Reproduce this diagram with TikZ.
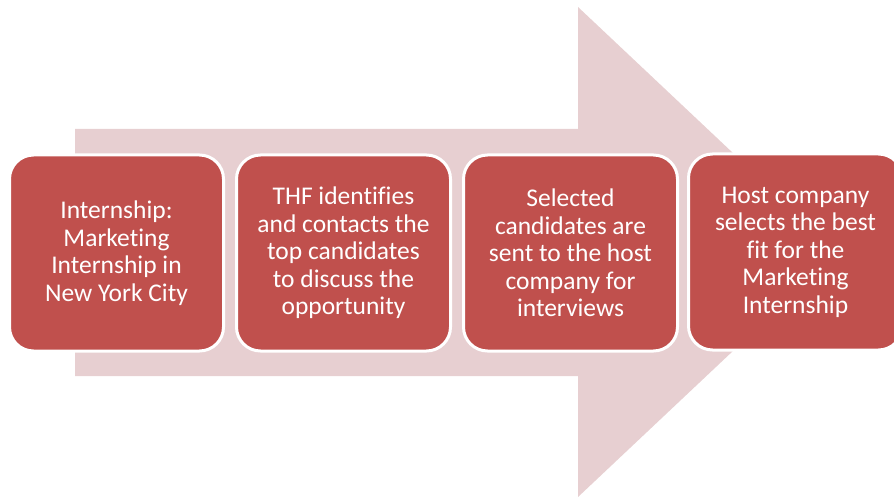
\documentclass[tikz,border=0pt]{standalone}
\usepackage{fontspec}
\setmainfont[Ligatures={NoCommon}]{Carlito}
\definecolor{boxred}{HTML}{C0504D}
\definecolor{arrowpink}{HTML}{E7CFD1}
\begin{document}
\begin{tikzpicture}[x=1pt,y=-1pt,
  stepbox/.style={rectangle, rounded corners=24pt, fill=boxred, draw=white, line width=3pt,
    minimum width=214pt, minimum height=196pt, inner sep=0pt,
    text=white, align=center, font=\fontsize{25.5}{27.5}\selectfont},
  bigarrow/.style={fill=arrowpink, draw=none}]
\useasboundingbox (0,0) rectangle (894,497);
\begin{scope}
\clip (0,0) rectangle (894,497);
\fill[bigarrow] (75,129) -- (578,129) -- (578,7) -- (838,252) -- (578,497) -- (578,376) -- (75,376) -- cycle;
\node[stepbox] (s1) at (116.5,253) {Internship:\\Marketing\\Internship in\\New York City};
\node[stepbox] (s2) at (343.5,253) {THF identifies\\and contacts the\\top candidates\\to discuss the\\opportunity};
\node[stepbox] (s3) at (570.5,253) {Selected\\candidates are\\sent to the host\\company for\\interviews};
\node[stepbox] (s4) at (795.5,252) {Host company\\selects the best\\fit for the\\Marketing\\Internship};
\end{scope}
\end{tikzpicture}
\end{document}
